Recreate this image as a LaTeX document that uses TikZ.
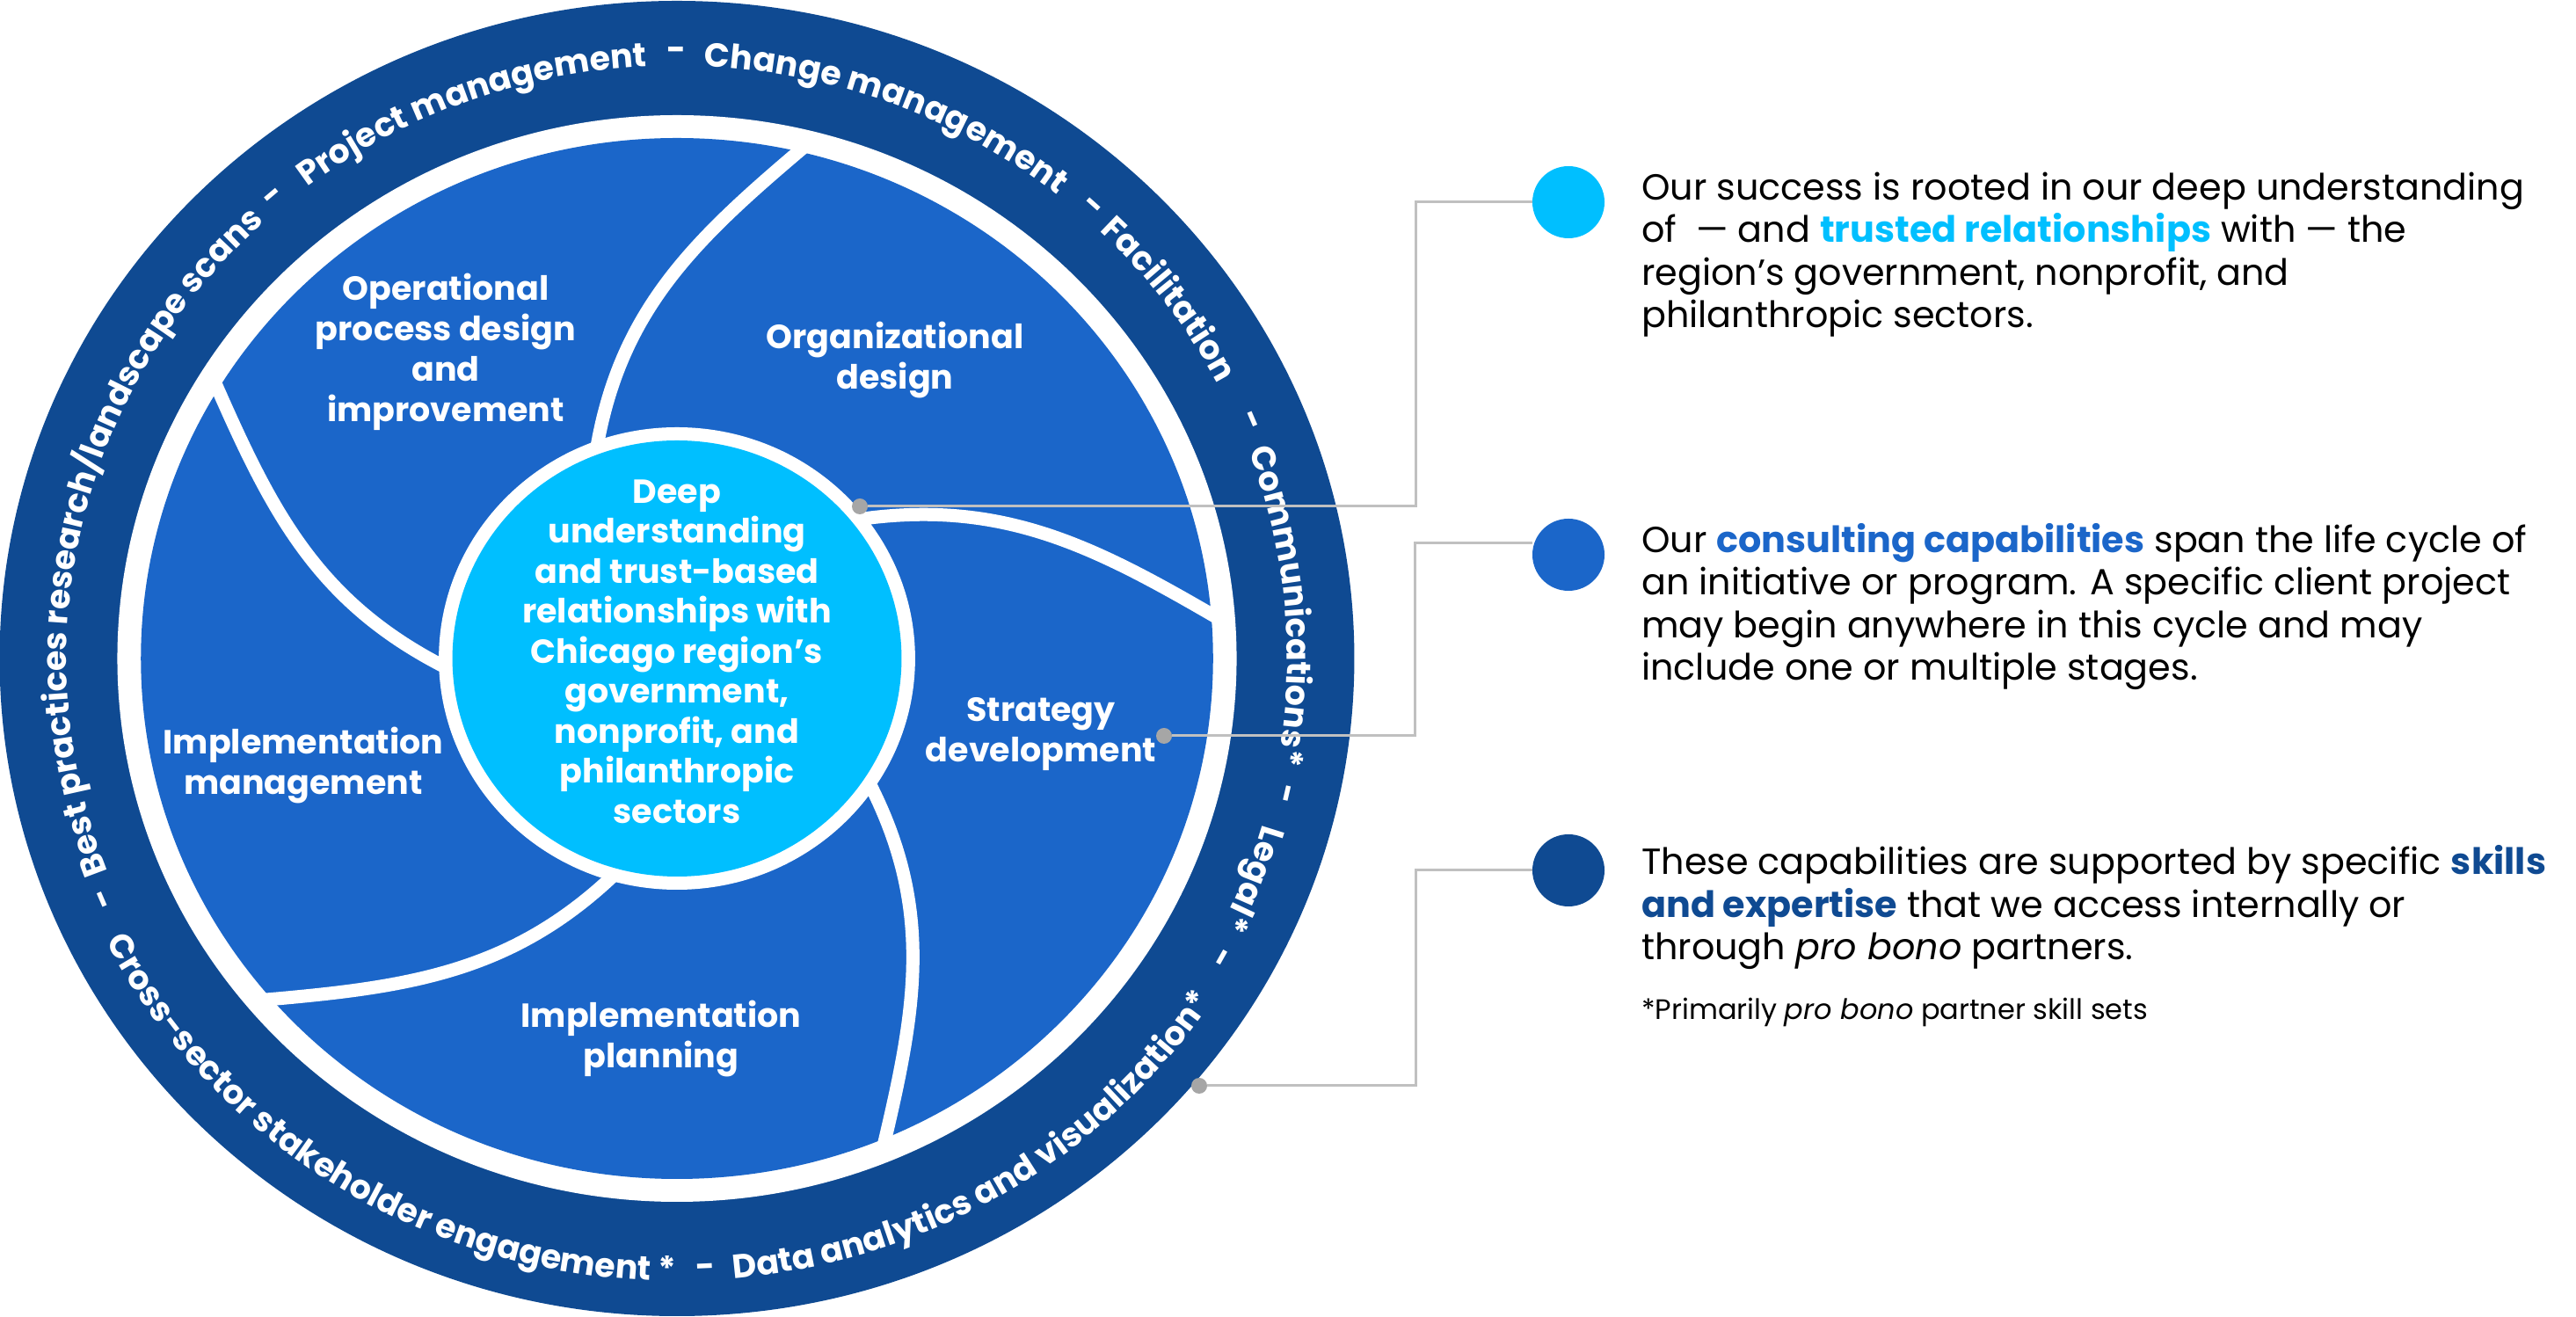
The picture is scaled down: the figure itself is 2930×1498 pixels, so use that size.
\documentclass[tikz,border=0pt]{standalone}
\usepackage{fontspec}
\setmainfont{Poppins}
\usepackage{xcolor}
\usetikzlibrary{positioning,decorations.text}

\definecolor{ringblue}{RGB}{15,74,146}
\definecolor{petalblue}{RGB}{27,102,201}
\definecolor{coreblue}{RGB}{0,191,255}
\definecolor{leadgray}{RGB}{192,192,192}
\definecolor{pingray}{RGB}{166,166,166}

\newcommand{\ringfont}{\fontsize{38}{38}\selectfont\bfseries}
% text on the ring: centre angle, words (top reads clockwise, bottom anticlockwise)
\newcommand{\ringtop}[2]{%
  \path[decorate, decoration={text along path, text align=center, text color=white,
      text={|\ringfont|#2}}]
    ({694*cos(#1+70)},{674*sin(#1+70)}) arc[start angle=#1+70, end angle=#1-70, x radius=694, y radius=674];}
\newcommand{\ringbot}[2]{%
  \path[decorate, decoration={text along path, text align=center, text color=white,
      text={|\ringfont|#2}}]
    ({729*cos(#1-70)},{708*sin(#1-70)}) arc[start angle=#1-70, end angle=#1+70, x radius=729, y radius=708];}

\begin{document}
\begin{tikzpicture}[
    x=1pt, y=1pt,
    petalline/.style={white, line width=15pt},
    stage/.style={align=center, text=white, inner sep=0, font=\fontsize{38}{46}\selectfont\bfseries},
    coretext/.style={align=center, text=white, inner sep=0, font=\fontsize{38}{45.5}\selectfont\bfseries},
    ringdash/.style={text=white, inner sep=0, font=\ringfont},
    leader/.style={leadgray, line width=3pt},
    pin/.style={circle, fill=pingray, inner sep=0, minimum size=18pt},
    bullet/.style={circle, inner sep=0, minimum size=82pt},
    blurb/.style={anchor=base west, align=left, inner sep=0, font=\fontsize{41.3}{48.5}\selectfont}]

\useasboundingbox (0,0) rectangle (2930,1498);

% wheel
\begin{scope}[shift={(770,749)}, xscale=1.03]
  \fill[ringblue] (0,0) circle (748);
  \fill[white] (0,0) circle (618);
  \fill[petalblue] (0,0) circle (592);
  \foreach \a in {111,39,-33,-105,-177}
    \draw[petalline] (\a:250) to[out=\a-30, in=\a+110] (\a-35:605);
  \fill[white] (0,0) circle (263);
  \fill[coreblue] (0,0) circle (248);
\end{scope}

% ring words
\begin{scope}[shift={(770,749)}]
  \ringtop{167}{Best practices research/landscape scans}
  \ringtop{110.5}{Project management}
  \ringtop{69}{Change management}
  \ringtop{36.2}{Facilitation}
  \ringtop{5}{Communications*}
  \ringtop{-21}{Legal*}
  \ringbot{238}{Cross-sector stakeholder engagement *}
  \ringbot{301.4}{Data analytics and visualization*}
  \foreach \a in {203.3,130.3,90,48.2,23.1,-12.9,-29.5,272.5}
    \node[ringdash, rotate=\a-90] at ({707*cos(\a)},{687*sin(\a)}) {-};
\end{scope}

% stages
\node[coretext] (core) at (770,757) {Deep\\understanding\\and trust-based\\relationships with\\Chicago region’s\\government,\\nonprofit, and\\philanthropic\\sectors};
\node[stage] (opdesign) at (507,1098) {Operational\\process design\\and\\improvement};
\node[stage] (orgdesign) at (1018,1088) {Organizational\\design};
\node[stage] (strategy) at (1184,663) {Strategy\\development};
\node[stage] (implplan) at (752,316) {Implementation\\planning};
\node[stage] (implmgmt) at (345,627) {Implementation\\management};

% legend
\node[bullet, fill=coreblue] (bul1) at (1784,1268) {};
\node[bullet, fill=petalblue] (bul2) at (1784,867) {};
\node[bullet, fill=ringblue] (bul3) at (1784,508) {};

\node[blurb] (blurb1) at (1867,1125) {Our success is rooted in our deep understanding\\of~~— and \textbf{\color{coreblue}trusted relationships} with — the\\region’s government, nonprofit, and\\philanthropic sectors.};
\node[blurb] (blurb2) at (1867,724) {Our \textbf{\color{petalblue}consulting capabilities} span the life cycle of\\an initiative or program. A specific client project\\may begin anywhere in this cycle and may\\include one or multiple stages.};
\node[blurb] (blurb3) at (1867,406) {These capabilities are supported by specific \textbf{\color{ringblue}skills}\\\textbf{\color{ringblue}and expertise} that we access internally or\\through \textit{pro bono} partners.};
\node[blurb, font=\fontsize{32}{38}\selectfont] (note) at (1867,338) {*Primarily \textit{pro bono} partner skill sets};

\node[pin] (pin1) at (978,922) {};
\node[pin] (pin2) at (1324,661) {};
\node[pin] (pin3) at (1364,263) {};
\coordinate (k1) at (1610,1268);
\coordinate (k2) at (1609,880);
\coordinate (k3) at (1610,508);

\draw[leader] (pin1) -| (k1) -- (bul1);
\draw[leader] (pin2) -| (k2) -- (k2 -| bul2.west);
\draw[leader] (pin3) -| (k3) -- (bul3);

\end{tikzpicture}
\end{document}
